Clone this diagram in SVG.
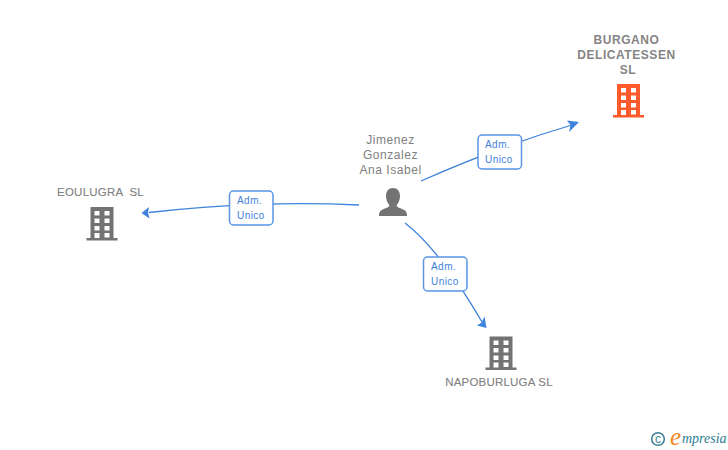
<svg xmlns="http://www.w3.org/2000/svg" width="728" height="450" viewBox="0 0 728 450">
<defs>
<style>
.l{font-family:"Liberation Sans",Arial,sans-serif;font-size:12px;fill:#808080;text-anchor:middle;letter-spacing:.55px}
.n{font-size:11.5px;letter-spacing:.2px;stroke:#808080;stroke-width:.1}
.b{font-weight:bold;fill:#858585}
.c{fill:none;stroke:#3f82dc;stroke-width:1.3}
.a{fill:#3f82dc}
.box{fill:#fff;stroke:#5a95e6;stroke-width:1.5}
.t{font-family:"Liberation Sans",Arial,sans-serif;font-size:10px;fill:#3f7fd8;letter-spacing:.45px}
</style>
<g id="bld">
<path d="M-11.500 -2V-33H11.500V-2H15.500V0.500H-15.500V-2Z M-7.500 -29V-24.500H-2.500V-29Z M2.500 -29V-24.500H7.500V-29Z M-7.500 -21.500V-17H-2.500V-21.500Z M2.500 -21.500V-17H7.500V-21.500Z M-7.500 -14V-9.500H-2.500V-14Z M2.500 -14V-9.500H7.500V-14Z M-7.500 -7V-2H-2.500V-7Z M2.500 -7V-2.500H7.500V-7Z" fill-rule="evenodd"/>
</g>
</defs>
<rect width="728" height="450" fill="#fff"/>
<g id="connectors">
<path class="c" d="M421 181Q500 146 572 125"/>
<path class="a" d="M579 122L569 132L570.500 125L567 120.500Z"/>
<path class="c" d="M359 205Q260 200 149 212.500"/>
<path class="a" d="M141.500 213L149 207L148 212.500L149.500 218.500Z"/>
<path class="c" d="M405 223Q440 250 482 322"/>
<path class="a" d="M486.500 328L477 325.500L481.500 322.500L484.500 316.500Z"/>
</g>
<g id="edge-label-1"><rect class="box" x="478" y="135" width="43.500" height="34" rx="4"/><text class="t" x="485" y="148">Adm.</text><text class="t" x="485" y="163">Unico</text></g>
<g id="edge-label-2"><rect class="box" x="229.500" y="191" width="43.500" height="34" rx="4"/><text class="t" x="237" y="204">Adm.</text><text class="t" x="237" y="219">Unico</text></g>
<g id="edge-label-3"><rect class="box" x="423.500" y="257" width="43.500" height="34" rx="4"/><text class="t" x="431" y="270">Adm.</text><text class="t" x="431" y="285">Unico</text></g>
<g id="node-person">
<text class="l" x="390.500" y="144">Jimenez</text><text class="l" x="390.500" y="159">Gonzalez</text><text class="l" x="390.500" y="174">Ana Isabel</text>
<path fill="#737373" d="M393 188C397.500 188 400 191.500 400 196C400 200 398.500 203 396.500 205.500C396.500 208 404 208.500 406 211.500C407 213 407 215 407 216H379C379 215 379 213 380 211.500C382 208.500 389.500 208 389.500 205.500C387.500 203 386 200 386 196C386 191.500 388.500 188 393 188Z"/>
</g>
<g id="node-burgano">
<text class="l b" x="626.500" y="44">BURGANO</text><text class="l b" x="626.500" y="59">DELICATESSEN</text><text class="l b" x="628" y="74">SL</text>
<use href="#bld" x="628.500" y="117" fill="#ff5a2c"/>
</g>
<g id="node-eoulugra">
<text class="l n" x="100.500" y="196" xml:space="preserve">EOULUGRA  SL</text>
<use href="#bld" x="102" y="240" fill="#737373"/>
</g>
<g id="node-napoburluga">
<text class="l n" x="499" y="386">NAPOBURLUGA SL</text>
<use href="#bld" x="501" y="369.500" fill="#737373"/>
</g>
<g id="logo">
<circle cx="658" cy="439" r="6.300" fill="none" stroke="#3d7f95" stroke-width="1.600"/>
<text x="658" y="443" text-anchor="middle" font-family="'Liberation Sans',sans-serif" font-size="12" fill="#3d7f95">c</text>
<text x="670" y="445" font-family="'Liberation Serif',serif" font-style="italic" font-size="25" fill="#f08a1d">e</text>
<text x="682" y="443" font-family="'Liberation Serif',serif" font-style="italic" font-size="14" fill="#2d7c93">mpresia</text>
</g>
</svg>
